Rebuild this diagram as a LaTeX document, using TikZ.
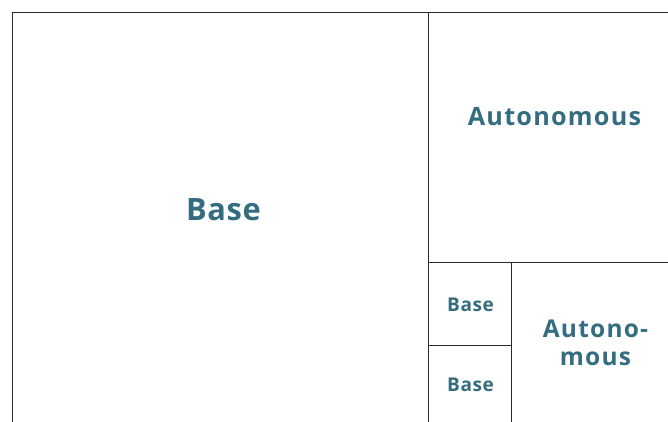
\documentclass[tikz,border=0pt]{standalone}
\usepackage{fontspec}
\setmainfont{Open Sans}
\newfontfamily\wideA[LetterSpace=2]{Open Sans}
\newfontfamily\wideB[LetterSpace=5]{Open Sans}
\newfontfamily\wideC[LetterSpace=3]{Open Sans}
\definecolor{labelteal}{HTML}{356D80}
\definecolor{rule}{HTML}{2A2A2A}
\begin{document}
\begin{tikzpicture}[x=1pt,y=-1pt,
  grid/.style={draw=rule,line width=0.9pt},
  cell/.style={text=labelteal,inner sep=0pt,align=center,anchor=base}]
\useasboundingbox (0,0) rectangle (668,422);
% frame and partition lines
\draw[grid] (668,12) -- (12,12) -- (12,422);
\draw[grid] (428,12) -- (428,422);
\draw[grid] (428,262) -- (668,262);
\draw[grid] (511,262) -- (511,422);
\draw[grid] (428,345) -- (511,345);
% labels (a two-line node sits on the baseline of its last line)
\node[cell,font=\wideA\fontsize{30.8}{30.8}\selectfont\bfseries] (base) at (223.5,220) {Base};
\node[cell,font=\wideB\fontsize{25.2}{25.2}\selectfont\bfseries] (auto) at (554.5,126) {Autonomous};
\node[cell,font=\wideC\fontsize{19}{19}\selectfont\bfseries] (baseA) at (470.5,311.7) {Base};
\node[cell,font=\wideC\fontsize{19}{19}\selectfont\bfseries] (baseB) at (470.5,391.7) {Base};
\node[cell,font=\wideB\fontsize{24.5}{27.3}\selectfont\bfseries] (autoB) at (595.5,365) {Autono-\\mous};
\end{tikzpicture}
\end{document}
